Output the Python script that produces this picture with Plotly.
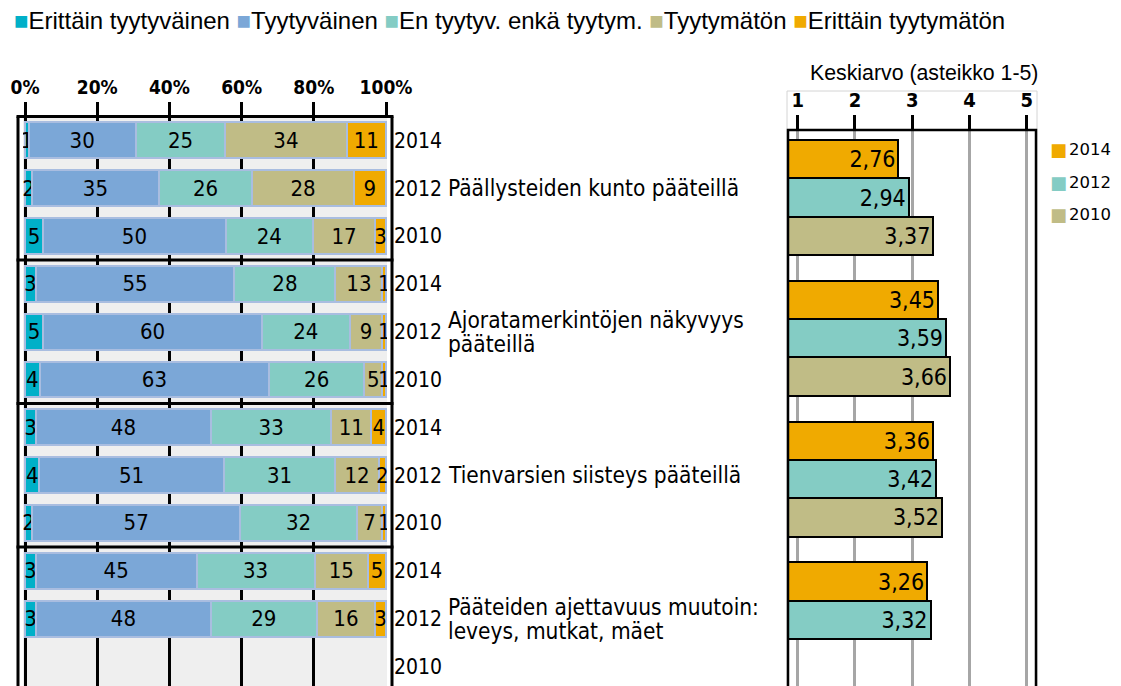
import plotly.graph_objects as go

W, H = 1121, 686
OX, OY = 8, 8  # page offset of the plot div (body margin)

# ---------------- data ----------------
categories = [
    "Päällysteiden kunto pääteillä",
    "Ajoratamerkintöjen näkyvyys<br>pääteillä",
    "Tienvarsien siisteys pääteillä",
    "Pääteiden ajettavuus muutoin:<br>leveys, mutkat, mäet",
]
years = ["2014", "2012", "2010"]
responses = ["Erittäin tyytyväinen", "Tyytyväinen", "En tyytyv. enkä tyytym.",
             "Tyytymätön", "Erittäin tyytymätön"]
resp_colors = ["#00b0c8", "#7ba7d7", "#84ccc4", "#c0bc86", "#f0aa00"]

# rows: category 1 (2014, 2012, 2010), category 2 (...), ...
erittain_tyytyvainen = [1, 2, 5, 3, 5, 4, 3, 4, 2, 3, 3, None]
tyytyvainen = [30, 35, 50, 55, 60, 63, 48, 51, 57, 45, 48, None]
en_tyytyv_enka_tyytym = [25, 26, 24, 28, 24, 26, 33, 31, 32, 33, 29, None]
tyytymaton = [34, 28, 17, 13, 9, 5, 11, 12, 7, 15, 16, None]
erittain_tyytymaton = [11, 9, 3, 1, 1, 1, 4, 2, 1, 5, 3, None]
series = [erittain_tyytyvainen, tyytyvainen, en_tyytyv_enka_tyytym,
          tyytymaton, erittain_tyytymaton]

mean_2014 = [2.76, 3.45, 3.36, 3.26]
mean_2012 = [2.94, 3.59, 3.42, 3.32]
mean_2010 = [3.37, 3.66, 3.52, None]
mean_series = [mean_2014, mean_2012, mean_2010]
mean_colors = ["#f0aa00", "#84ccc4", "#c0bc86"]

pct_ticks = [0, 20, 40, 60, 80, 100]
pct_ticktext = ["0%", "20%", "40%", "60%", "80%", "100%"]
mean_ticks = [1, 2, 3, 4, 5]

# ---------------- helpers ----------------
def px(x):
    return (x - OX) / W

def py(y):
    return 1 - (y - OY) / H

YBOT = H + OY  # pixel row of paper y = 0

n_rows = len(categories) * len(years)
rows = list(range(n_rows))
row_years = [years[i % 3] for i in rows]
totals = [sum(s[i] for s in series) if series[0][i] is not None else None for i in rows]

LAB = "DejaVu Sans Condensed"

fig = go.Figure()

# ---- left: 100% stacked bars ----
for name, vals, col in zip(responses, series, resp_colors):
    xs = [None if v is None else v / t * 100 for v, t in zip(vals, totals)]
    fig.add_trace(go.Bar(
        name=name, y=rows, x=xs, orientation="h", width=0.75,
        marker=dict(color=col, line=dict(color="#a9bde0", width=2)),
        text=["" if v is None else str(v) for v in vals],
        textposition="inside", insidetextanchor="middle", textangle=0,
        constraintext="none",
        insidetextfont=dict(family=LAB, size=22, color="black"),
        xaxis="x", yaxis="y", showlegend=False, hoverinfo="skip",
    ))

# ---- right: mean scores ----
bar_w = 0.272
offsets = [-bar_w, 0, bar_w]
for yr, vals, col, off in zip(years, mean_series, mean_colors, offsets):
    fig.add_trace(go.Bar(
        name=yr, y=[g + off for g in range(len(categories))], x=vals,
        orientation="h", width=bar_w,
        marker=dict(color=col, line=dict(color="black", width=2)),
        texttemplate="%{x:.2f}", textposition="inside", insidetextanchor="end",
        textangle=0, constraintext="none",
        insidetextfont=dict(family=LAB, size=23, color="black"),
        xaxis="x2", yaxis="y2", showlegend=False, hoverinfo="skip",
    ))

# ---------------- axes ----------------
x_l0, x_l100 = 25, 386
ppu = (x_l100 - x_l0) / 100
left_dom = (23, 387)
top1, rowh = 116.5, 47.82
fig.update_layout(
    xaxis=dict(
        domain=[px(left_dom[0]), px(left_dom[1])],
        range=[(left_dom[0] - x_l0) / ppu, (left_dom[1] - x_l0) / ppu],
        side="top", tickvals=pct_ticks, ticktext=pct_ticktext,
        ticks="outside", ticklen=14, tickwidth=3, tickcolor="black",
        showgrid=True, gridcolor="black", gridwidth=3, zeroline=False,
        showline=False, anchor="y", automargin=False,
        tickfont=dict(family=LAB, size=19, color="black", weight="bold"),
    ),
    yaxis=dict(
        domain=[0, py(top1)],
        range=[-0.5 + (YBOT - top1) / rowh, -0.5],
        tickvals=rows, ticktext=row_years, side="right", anchor="x",
        showgrid=False, zeroline=False, ticks="", showline=False,
        automargin=False, ticklabelstandoff=6,
        tickfont=dict(family=LAB, size=21, color="black"),
    ),
)

r1, r5 = 797.7, 1026.7
ppu2 = (r5 - r1) / 4
right_dom = (788, 1036)
g0, gstep, top2 = 197.5, 140.8, 130
fig.update_layout(
    xaxis2=dict(
        domain=[px(right_dom[0]), px(right_dom[1])],
        range=[1 + (right_dom[0] - r1) / ppu2, 1 + (right_dom[1] - r1) / ppu2],
        side="top", tickvals=mean_ticks, anchor="y2", automargin=False,
        ticks="outside", ticklen=14, tickwidth=3, tickcolor="black",
        showgrid=True, gridcolor="#a6a6a6", gridwidth=2.5, zeroline=False,
        showline=False,
        tickfont=dict(family=LAB, size=20, color="black", weight="bold"),
    ),
    yaxis2=dict(
        domain=[0, py(top2)],
        range=[(YBOT - g0) / gstep, -(g0 - top2) / gstep],
        showticklabels=False, showgrid=False, zeroline=False, ticks="",
        anchor="x2", automargin=False,
    ),
)

# ---------------- shapes ----------------
shapes = []
shapes.append(dict(type="rect", xref="paper", yref="paper", layer="below",
                   x0=px(23), x1=px(387), y0=py(YBOT), y1=py(top1),
                   fillcolor="#efefef", line=dict(width=0)))
for xx in (18, 392):
    shapes.append(dict(type="line", xref="paper", yref="paper",
                       x0=px(xx), x1=px(xx), y0=py(top1), y1=py(YBOT + 5),
                       line=dict(color="black", width=3)))
shapes.append(dict(type="line", xref="paper", yref="paper",
                   x0=px(16.5), x1=px(393.5), y0=py(top1), y1=py(top1),
                   line=dict(color="black", width=3)))
for b in (2.5, 5.5, 8.5):
    shapes.append(dict(type="line", xref="paper", yref="y",
                       x0=px(16.5), x1=px(393.5), y0=b, y1=b,
                       line=dict(color="black", width=3)))
shapes.append(dict(type="rect", xref="paper", yref="paper",
                   x0=px(787), x1=px(1037), y0=py(YBOT + 10), y1=py(91),
                   line=dict(color="#d4d4d4", width=1)))
shapes.append(dict(type="rect", xref="paper", yref="paper",
                   x0=px(788), x1=px(1036), y0=py(YBOT + 10), y1=py(top2),
                   line=dict(color="black", width=2.5)))

# ---------------- annotations ----------------
ann = []
legend_txt = " ".join(
    f'<span style="color:{c}">■</span>{n}' for n, c in zip(responses, resp_colors))
ann.append(dict(xref="paper", yref="paper", x=px(12), y=py(20), xanchor="left",
                yanchor="middle", showarrow=False, text=legend_txt,
                font=dict(family="Liberation Sans", size=24, color="black")))

for i, cat in enumerate(categories):
    lines = cat.split("<br>")
    yrow = i * 3 + 1
    shifts = [0] if len(lines) == 1 else [12, -12]
    for ln, sh in zip(lines, shifts):
        ann.append(dict(xref="paper", yref="y", x=px(446), y=yrow, yshift=sh,
                        xanchor="left", yanchor="middle", showarrow=False,
                        text=ln, font=dict(family=LAB, size=22.5, color="black")))

ann.append(dict(xref="paper", yref="paper", x=px(924), y=py(73),
                xanchor="center", yanchor="middle", showarrow=False,
                text="Keskiarvo (asteikko 1-5)",
                font=dict(family="Liberation Sans", size=21.3, color="black")))

for yr, c, yy in zip(years, mean_colors, (149, 183, 215)):
    ann.append(dict(xref="paper", yref="paper", x=px(1048), y=py(yy),
                    xanchor="left", yanchor="middle", showarrow=False,
                    text=f'<span style="color:{c}">■</span>',
                    font=dict(family="DejaVu Sans", size=18, color=c)))
    ann.append(dict(xref="paper", yref="paper", x=px(1067), y=py(yy),
                    xanchor="left", yanchor="middle", showarrow=False,
                    text=yr, font=dict(family="DejaVu Sans", size=16.5, color="black")))

fig.update_layout(
    width=W, height=H, margin=dict(l=0, r=0, t=0, b=0, autoexpand=False),
    paper_bgcolor="white", plot_bgcolor="white",
    barmode="stack", separators=", ",
    shapes=shapes, annotations=ann, showlegend=False,
)

fig.write_html("out.html")
